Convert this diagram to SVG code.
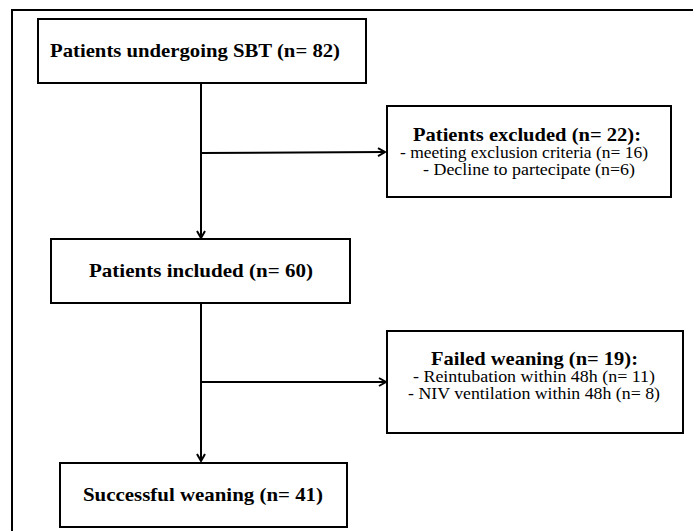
<svg xmlns="http://www.w3.org/2000/svg" width="693" height="531" viewBox="0 0 693 531">
<style>
.box{fill:#fff;stroke:#000;stroke-width:2}
.t{font-family:"Liberation Serif","Times New Roman",serif;fill:#000}
.h{font-weight:bold;font-size:19px}
.s{font-size:16px}
.c{stroke:#000;stroke-width:2;fill:none}
</style>
<defs>
<marker id="ah" markerWidth="10" markerHeight="10" refX="8" refY="5" orient="auto" markerUnits="userSpaceOnUse">
<path d="M1,1 L8,5 L1,9" fill="none" stroke="#000" stroke-width="2"/>
</marker>
</defs>
<rect width="693" height="531" fill="#fff"/>
<path d="M12,531 V10 H693" fill="none" stroke="#000" stroke-width="2"/>
<g id="connectors">
<line class="c" x1="201" y1="83" x2="201" y2="238" marker-end="url(#ah)"/>
<line class="c" x1="201" y1="153" x2="385" y2="152" marker-end="url(#ah)"/>
<line class="c" x1="201" y1="303" x2="201" y2="461" marker-end="url(#ah)"/>
<line class="c" x1="201" y1="382" x2="386" y2="382" marker-end="url(#ah)"/>
</g>
<g id="n1">
<rect class="box" x="38" y="19" width="328" height="64"/>
<text class="t h" x="50" y="57" textLength="290" lengthAdjust="spacingAndGlyphs">Patients undergoing SBT (n= 82)</text>
</g>
<g id="n2">
<rect class="box" x="387" y="106" width="284" height="91"/>
<text class="t h" x="413" y="141" textLength="228" lengthAdjust="spacingAndGlyphs">Patients excluded (n= 22):</text>
<text class="t s" x="400" y="158" textLength="248" lengthAdjust="spacingAndGlyphs">- meeting exclusion criteria (n= 16)</text>
<text class="t s" x="423" y="175" textLength="212" lengthAdjust="spacingAndGlyphs">- Decline to partecipate (n=6)</text>
</g>
<g id="n3">
<rect class="box" x="51" y="239" width="299" height="64"/>
<text class="t h" x="89" y="277" textLength="224" lengthAdjust="spacingAndGlyphs">Patients included (n= 60)</text>
</g>
<g id="n4">
<rect class="box" x="387" y="331" width="296" height="102"/>
<text class="t h" x="431" y="365" textLength="207" lengthAdjust="spacingAndGlyphs">Failed weaning (n= 19):</text>
<text class="t s" x="413" y="382" textLength="242" lengthAdjust="spacingAndGlyphs">- Reintubation within 48h (n= 11)</text>
<text class="t s" x="408" y="399" textLength="252" lengthAdjust="spacingAndGlyphs">- NIV ventilation within 48h (n= 8)</text>
</g>
<g id="n5">
<rect class="box" x="60" y="463" width="287" height="64"/>
<text class="t h" x="83" y="501" textLength="240" lengthAdjust="spacingAndGlyphs">Successful weaning (n= 41)</text>
</g>
</svg>
